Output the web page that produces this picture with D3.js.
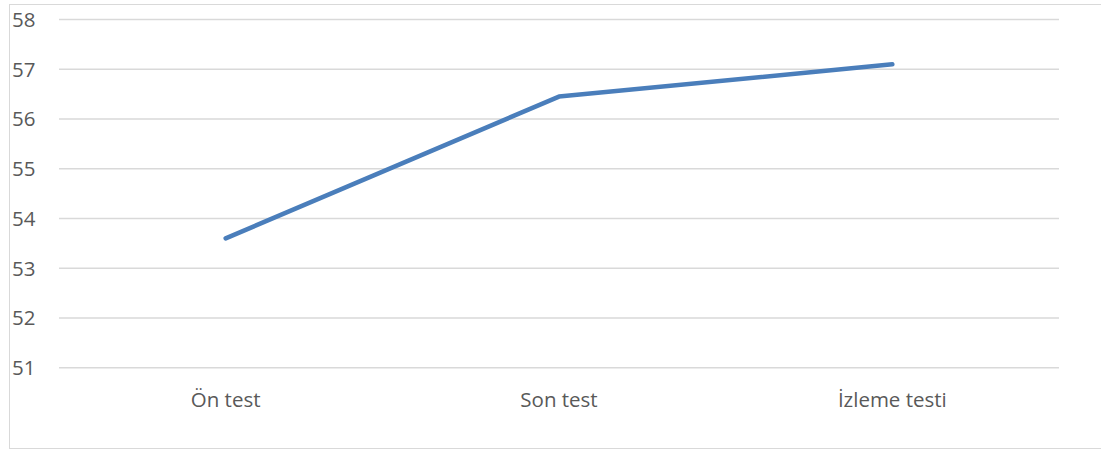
<html>
<head>
<meta charset="utf-8">
<script src="https://d3js.org/d3.v7.min.js"></script>
<style>
    body { margin: 0; background: #fff; }
    svg { display: block; }
    .grid line { stroke: #d9d9d9; stroke-width: 1.5px; }
    .axis text { font-family: "Open Sans", sans-serif; font-size: 20.5px; fill: #595959; }
    .series { fill: none; stroke: #4a7ebb; stroke-width: 4.5px; stroke-linecap: round; stroke-linejoin: round; }
</style>
</head>
<body>
<svg width=1101 height=450></svg>
<script>
    // data
    let categories = ['Ön test', 'Son test', 'İzleme testi'];
    let values = [53.6, 56.45, 57.1];
    let yTicks = [51, 52, 53, 54, 55, 56, 57, 58];

    let svg = d3.select('svg'),
        margin = { top: 19.5, right: 42, bottom: 82, left: 59 },
        width = +svg.attr('width') - margin.left - margin.right,
        height = +svg.attr('height') - margin.top - margin.bottom;

    // chart frame
    svg.append('rect')
        .attr('x', 9.5).attr('y', 4.5)
        .attr('width', 1100).attr('height', 444)
        .attr('fill', 'none')
        .attr('stroke', '#d9d9d9')
        .attr('stroke-width', 1);

    let g = svg.append('g')
        .attr('transform', 'translate(' + margin.left + ',' + margin.top + ')');

    let x = d3.scaleBand().domain(categories).range([0, width]);
    let y = d3.scaleLinear().domain([51, 58]).range([348.2, 0]);

    // gridlines
    g.append('g').attr('class', 'grid')
        .selectAll('line')
        .data(yTicks)
        .enter().append('line')
        .attr('x1', 0).attr('x2', width)
        .attr('y1', d => y(d)).attr('y2', d => y(d));

    // y labels
    g.append('g').attr('class', 'axis')
        .selectAll('text')
        .data(yTicks)
        .enter().append('text')
        .attr('x', 12 - margin.left)
        .attr('y', d => y(d))
        .attr('dy', '0.36em')
        .text(d => d);

    // x labels
    g.append('g').attr('class', 'axis')
        .selectAll('text')
        .data(categories)
        .enter().append('text')
        .attr('x', d => x(d) + x.bandwidth() / 2)
        .attr('y', 387.5)
        .attr('text-anchor', 'middle')
        .text(d => d);

    let line = d3.line()
        .x((d, i) => x(categories[i]) + x.bandwidth() / 2)
        .y(d => y(d));

    g.append('path')
        .datum(values)
        .attr('class', 'series')
        .attr('d', line);
</script>
</body>
</html>
